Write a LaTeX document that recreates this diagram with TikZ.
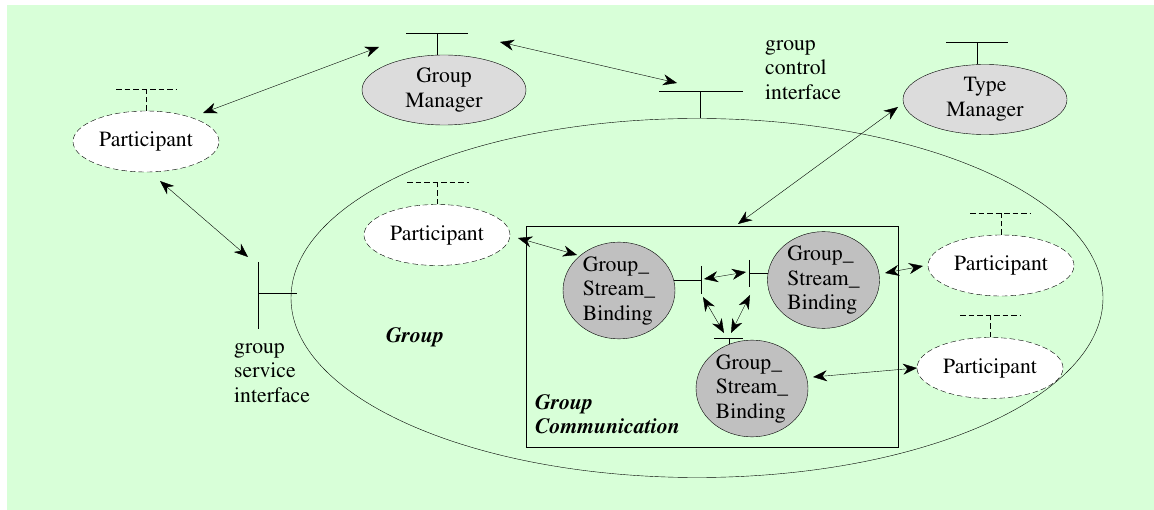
\documentclass[tikz,border=0pt]{standalone}
\usepackage[T1]{fontenc}
\renewcommand{\rmdefault}{ptm}
\usetikzlibrary{shapes.geometric,arrows.meta,calc}
\pgfdeclarelayer{background}
\pgfsetlayers{background,main}
\definecolor{paper}{RGB}{216,255,216}
\definecolor{mgrfill}{RGB}{220,220,220}
\definecolor{gsbfill}{RGB}{192,192,192}

\begin{document}
\begin{tikzpicture}[x=1pt,y=-1pt,line width=1.6pt,
  every node/.style={font=\rmfamily\fontsize{21.7}{24.5}\selectfont},
  dsh/.style={dash pattern=on 5.5pt off 3pt},
  obj/.style={ellipse,draw,inner sep=0pt,align=center},
  part/.style={obj,dsh,fill=white,minimum width=146pt,minimum height=61pt},
  mgr/.style={obj,fill=mgrfill,minimum width=164pt,minimum height=70pt},
  gsb/.style={obj,fill=gsbfill,align=left,minimum width=112pt,minimum height=90pt},
  label/.style={align=left,anchor=west,inner sep=0pt},
  title/.style={align=left,font=\rmfamily\fontsize{21.7}{24.5}\selectfont\bfseries\itshape},
  tip/.style={Stealth[length=14pt,width=11pt,inset=4.5pt]},
  dbl/.style={{Stealth[length=14pt,width=11pt,inset=4.5pt]}-{Stealth[length=14pt,width=11pt,inset=4.5pt]}},
]
\useasboundingbox (0,0) rectangle (1154,510);
\begin{pgfonlayer}{background}
  \fill[paper] (7,5) rectangle (1154,510);
\end{pgfonlayer}

% the group and its communication box
\node[ellipse,draw,minimum width=812pt,minimum height=359pt,inner sep=0pt] (grp) at (697,298) {};
\node[draw,minimum width=372pt,minimum height=221pt,inner sep=0pt] (gcbox) at (712,336.5) {};
\node[title] (grplbl) at (415,337) {Group};
\node[title,anchor=west,inner sep=0pt] (gclbl) at (535,414) {Group\\Communication};

% managers
\node[mgr] (gm) at (444,90) {Group\\Manager};
\node[mgr] (tm) at (985,99.5) {Type\\Manager};

% participants
\node[part] (p1) at (146,141.5) {Participant};
\node[part] (p2) at (437,235) {Participant};
\node[part] (p3) at (1001,265.5) {Participant};
\node[part] (p4) at (990,368) {Participant};

% group stream bindings
\node[gsb] (b1) at (619,290.5) {Group\_\\Stream\_\\Binding};
\node[gsb] (b2) at (823.5,280) {Group\_\\Stream\_\\Binding};
\node[gsb] (b3) at (752,388.5) {Group\_\\Stream\_\\Binding};

% interface labels
\node[label] (gcitxt) at (765,70) {group\\control\\interface};
\node[label] (gsitxt) at (234,373) {group\\service\\interface};

% interfaces of the managers and participants
\draw (gm.north) ++(-7,0) -- ++(0,-22) ++(-31,0) -- ++(62,0);
\draw (tm.north) ++(-8,0) -- ++(0,-22) ++(-31,0) -- ++(62,0);
\draw[dsh] (p1.north) -- ++(0,-22) ++(-30,0) -- ++(61,0);
\draw[dsh] (p2.north) -- ++(0,-22) ++(-30,0) -- ++(62,0);
\draw[dsh] (p3.north) -- ++(0,-22) ++(-31,0) -- ++(61,0);
\draw[dsh] (p4.north) -- ++(0,-22) ++(-30,0) -- ++(61,0);

% interfaces of the group
\draw (grp.north) ++(3,0) -- ++(0,-27) coordinate (gci);
\draw ($(gci)+(-41,0)$) -- ($(gci)+(43,0)$);
\coordinate (gsi) at (258,293);
\draw (gsi) -- ([xshift=6pt]gsi -| grp.west);
\draw ($(gsi)+(0,-31)$) -- ($(gsi)+(0,36)$);

% interfaces of the bindings
\coordinate (b1i) at (701,280);
\coordinate (b2i) at (749,273);
\coordinate (b3i) at (729,338);
\begin{pgfonlayer}{background}
  \draw (b1i) -- (b1i -| b1);
  \draw (b2i) -- (b2i -| b2);
  \draw (b3i) -- ++(0,16);
\end{pgfonlayer}
\draw ($(b1i)+(0,-14)$) -- ($(b1i)+(0,14)$);
\draw ($(b2i)+(0,-13)$) -- ($(b2i)+(0,14)$);
\draw ($(b3i)+(-15,0)$) -- ($(b3i)+(14,0)$);

% arrow ends
\coordinate (a1s) at (203,113);  \coordinate (a1e) at (379,47);
\coordinate (a2s) at (500,42);   \coordinate (a2e) at (677,83);
\coordinate (a3s) at (160,181);  \coordinate (a3e) at (248,257);
\coordinate (a4s) at (518,238);  \coordinate (a4e) at (577,255);
\coordinate (a5s) at (738,224);  \coordinate (a5e) at (898,107);
\coordinate (a6s) at (704,279);  \coordinate (a6e) at (746,272);
\coordinate (a7s) at (703,297);  \coordinate (a7e) at (724,333);
\coordinate (a8s) at (750,295);  \coordinate (a8e) at (731,333);
\coordinate (a9s) at (885,273);  \coordinate (a9e) at (923,266);
\coordinate (a10s) at (813,377); \coordinate (a10e) at (917,368);

\draw[dbl] (a1s) -- (a1e);
\draw[dbl] (a2s) -- (a2e);
\draw[dbl] (a3s) -- (a3e);
\draw[dbl] (a4s) -- (a4e);
\draw[dbl] (a5s) -- (a5e);
\draw[dbl] (a6s) -- (a6e);
\draw[dbl] (a7s) -- (a7e);
\draw[dbl] (a8s) -- (a8e);
\draw[dbl] (a9s) -- (a9e);
\draw[dbl] (a10s) -- (a10e);
\end{tikzpicture}
\end{document}
